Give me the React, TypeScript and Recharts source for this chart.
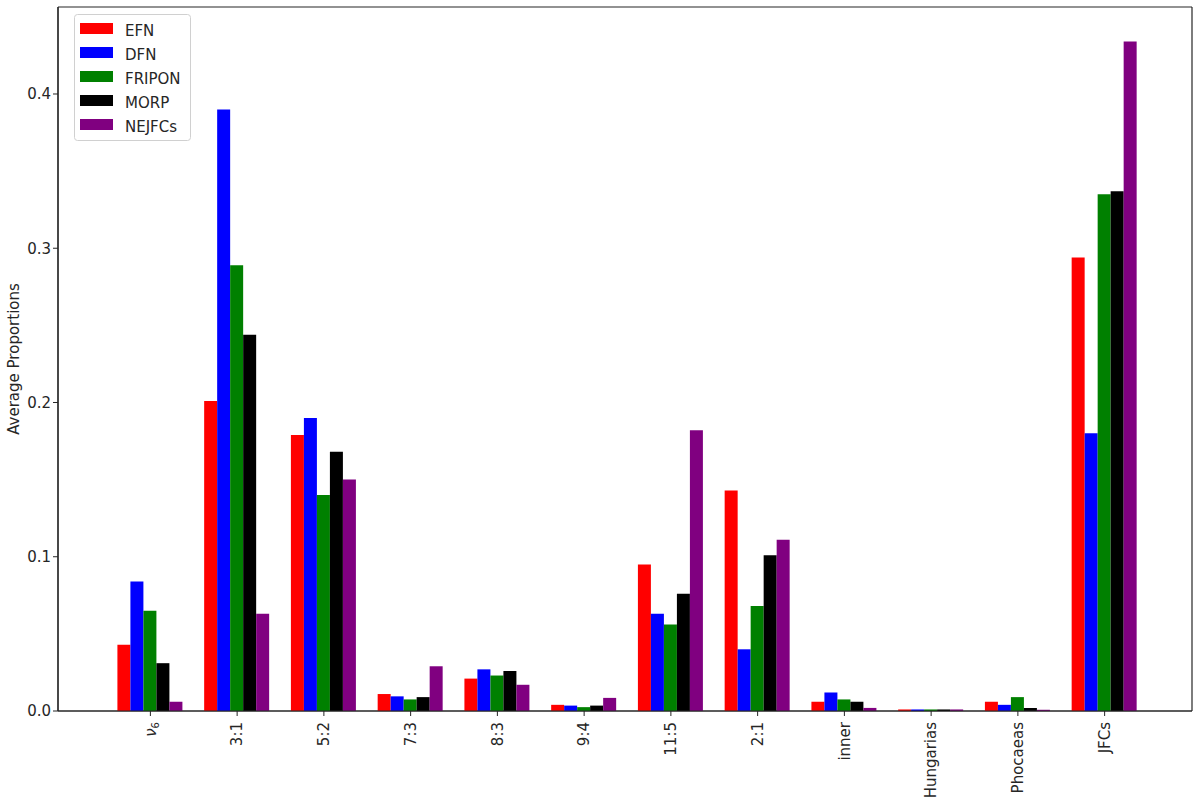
import { Bar, BarChart, XAxis, YAxis, Legend, Label, CartesianGrid } from "recharts";

const categories = ["ν6", "3:1", "5:2", "7:3", "8:3", "9:4", "11:5", "2:1", "inner", "Hungarias", "Phocaeas", "JFCs"];
const efn = [0.043, 0.201, 0.179, 0.011, 0.021, 0.004, 0.095, 0.143, 0.006, 0.001, 0.006, 0.294];
const dfn = [0.084, 0.39, 0.19, 0.0095, 0.027, 0.0035, 0.063, 0.04, 0.012, 0.001, 0.004, 0.18];
const fripon = [0.065, 0.289, 0.14, 0.0075, 0.023, 0.0025, 0.056, 0.068, 0.0075, 0.001, 0.009, 0.335];
const morp = [0.031, 0.244, 0.168, 0.009, 0.026, 0.0035, 0.076, 0.101, 0.006, 0.001, 0.002, 0.337];
const nejfcs = [0.006, 0.063, 0.15, 0.029, 0.017, 0.0085, 0.182, 0.111, 0.002, 0.001, 0.0008, 0.434];
const yTicks = [0, 0.1, 0.2, 0.3, 0.4];

const seriesList = [
  { key: "EFN", values: efn, color: "#ff0000" },
  { key: "DFN", values: dfn, color: "#0000ff" },
  { key: "FRIPON", values: fripon, color: "#008000" },
  { key: "MORP", values: morp, color: "#000000" },
  { key: "NEJFCs", values: nejfcs, color: "#800080" },
];

const data = categories.map((c, i) => {
  const row: Record<string, string | number> = { name: c };
  seriesList.forEach((s) => (row[s.key] = s.values[i]));
  return row;
});

const font = "DejaVu Sans, sans-serif";

const XTick = (props: any) => {
  const { x, y, payload } = props;
  const v = payload.value as string;
  return (
    <g transform={`translate(${x},${y + 4})`}>
      <text transform="rotate(-90)" textAnchor="end" dy="0.35em" fontSize={15} fill="#262626" fontFamily={font}>
        {v === "ν6" ? (
          <>
            <tspan fontStyle="italic">ν</tspan>
            <tspan fontSize={10} dy={3}>6</tspan>
          </>
        ) : (
          v
        )}
      </text>
    </g>
  );
};

const LegendBox = () => (
  <svg width={118} height={128}>
    <rect x={0.5} y={0.5} width={116} height={126} rx={3} fill="#fff" stroke="#d0d0d0" />
    {seriesList.map((s, i) => (
      <g key={s.key}>
        <rect x={6} y={9 + i * 24} width={33} height={11} fill={s.color} />
        <text x={51} y={16.5 + i * 24} dy="0.35em" fontSize={15} fill="#262626" fontFamily={font}>
          {s.key}
        </text>
      </g>
    ))}
  </svg>
);

export default function App() {
  return (
    <div style={{ position: "absolute", left: 0, top: 0, background: "#fff" }}>
      <BarChart
        width={1200}
        height={809}
        data={data}
        margin={{ top: 7, right: 8, bottom: 8, left: 8 }}
        barCategoryGap="12%"
        barGap={0}
      >
        <CartesianGrid
          stroke="#262626"
          strokeWidth={1.2}
          verticalCoordinatesGenerator={({ offset }: any) => [offset.left, offset.left + offset.width]}
          horizontalCoordinatesGenerator={({ offset }: any) => [offset.top, offset.top + offset.height]}
        />
        <XAxis
          dataKey="name"
          interval={0}
          height={90}
          padding={{ left: 49, right: 44 }}
          tick={<XTick />}
          tickLine={{ stroke: "#262626" }}
          tickSize={5}
          axisLine={{ stroke: "#262626", strokeWidth: 1.2 }}
        />
        <YAxis
          domain={[0, 0.4564]}
          ticks={yTicks}
          width={50}
          tickFormatter={(v: number) => v.toFixed(1)}
          tick={{ fontSize: 15, fill: "#262626", fontFamily: font }}
          tickLine={{ stroke: "#262626" }}
          tickSize={5}
          axisLine={{ stroke: "#262626", strokeWidth: 1.2 }}
        >
          <Label
            content={() => (
              <text x={14} y={359} transform="rotate(-90 14 359)" textAnchor="middle" dy="0.35em" fontSize={15} fill="#262626" fontFamily={font}>
                Average Proportions
              </text>
            )}
          />
        </YAxis>
        <Legend
          layout="horizontal"
          align="center"
          verticalAlign="middle"
          content={<LegendBox />}
          wrapperStyle={{ left: 74, top: 14, width: 118, height: 128 }}
        />
        {seriesList.map((s) => (
          <Bar key={s.key} dataKey={s.key} fill={s.color} isAnimationActive={false} />
        ))}
      </BarChart>
    </div>
  );
}
